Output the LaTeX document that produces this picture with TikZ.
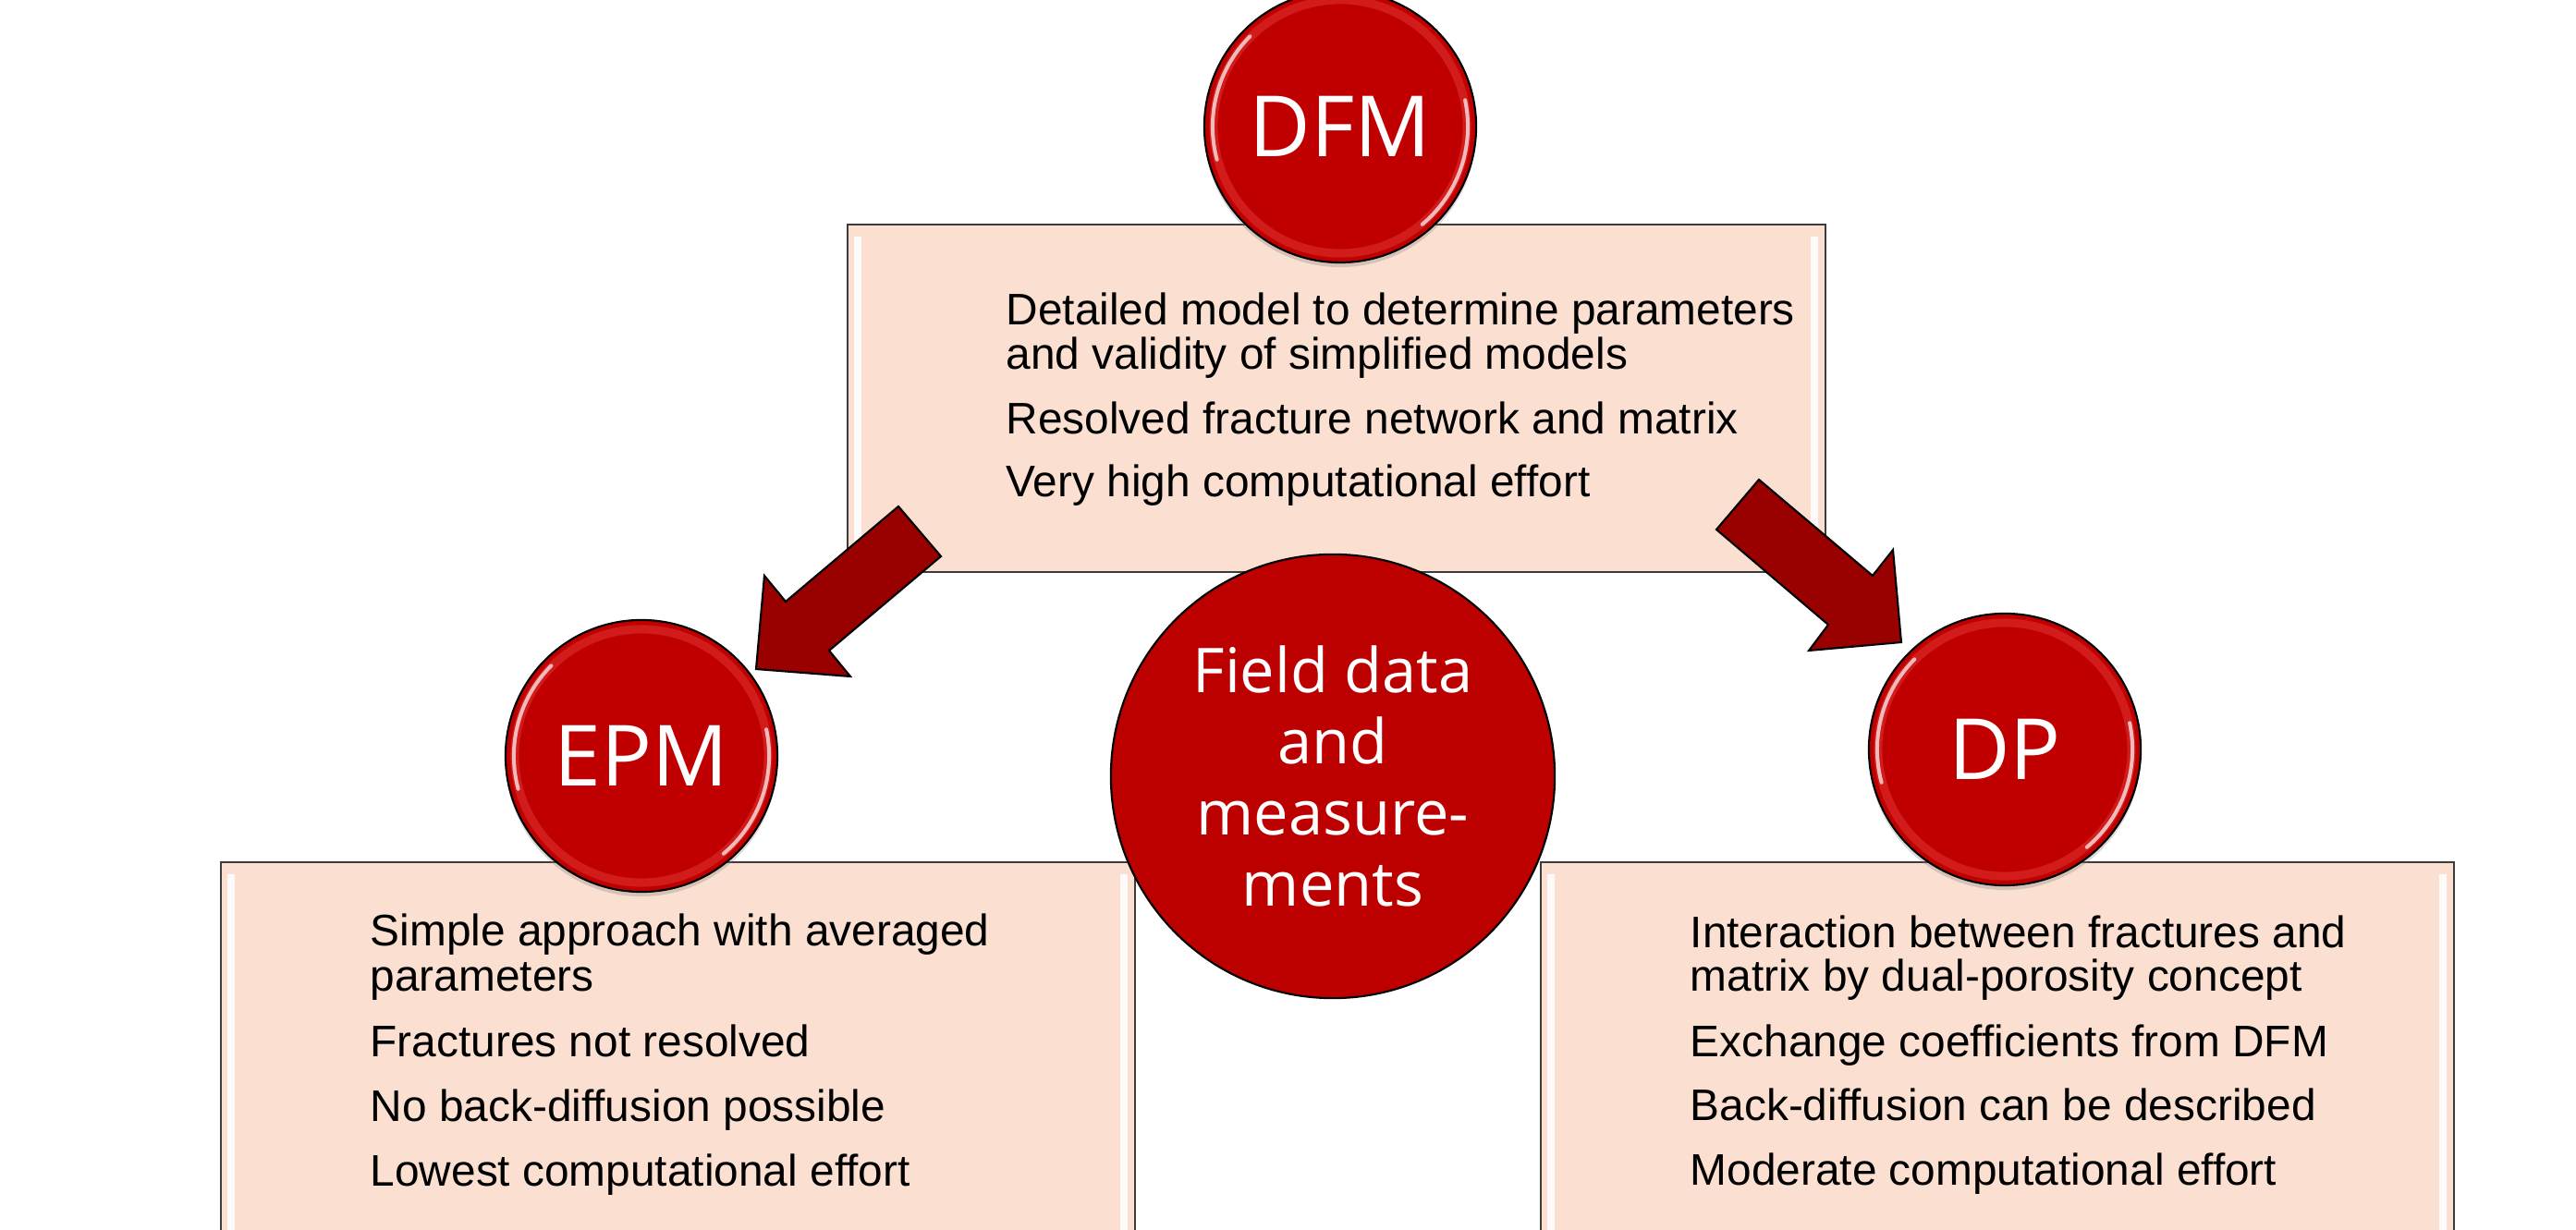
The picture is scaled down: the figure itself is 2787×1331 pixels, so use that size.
\documentclass[tikz,border=0pt]{standalone}
\usepackage{fontspec}
\setmainfont{Liberation Sans}
\newfontfamily\badgefont{Open Sans}
\usetikzlibrary{shadows}
\definecolor{badgered}{RGB}{192,0,0}
\definecolor{fieldred}{RGB}{188,0,0}
\definecolor{arrowred}{RGB}{153,0,0}
\definecolor{peach}{RGB}{251,223,208}
\definecolor{rimgray}{RGB}{60,60,60}
\definecolor{rimred}{RGB}{218,40,40}
\begin{document}
\begin{tikzpicture}[x=0.01cm, y=-0.01cm,
    panel/.style={fill=peach, draw=rimgray, line width=0.6pt},
    shine/.style={white, line width=0.08cm, opacity=0.9},
    badge/.style={circle, fill=badgered, draw=black, line width=0.6pt,
      minimum size=2.94cm, inner sep=0pt, text=white,
      font=\badgefont\fontsize{26}{30}\selectfont,
      drop shadow={shadow xshift=0pt, shadow yshift=-0.05cm, opacity=0.3}},
    itemtext/.style={anchor=base west, inner sep=0pt,
      font=\fontsize{13.6}{16}\selectfont},
    blockarrow/.style={fill=arrowred, draw=black, line width=0.6pt, line join=miter}]
  \useasboundingbox (0,0) rectangle (2787,1331);
  \clip (0,0) rectangle (2787,1331);

  % panels
  \draw[panel] (917,243) rectangle (1975,619);
  \draw[panel] (239,933) rectangle (1228,1420);
  \draw[panel] (1667,933) rectangle (2655,1420);
  \draw[shine] (928,256) -- (928,606);
  \draw[shine] (1963,256) -- (1963,606);
  \draw[shine] (250,946) -- (250,1331);
  \draw[shine] (1216,946) -- (1216,1331);
  \draw[shine] (1678,946) -- (1678,1331);
  \draw[shine] (2643,946) -- (2643,1331);

  % panel texts
  \node[itemtext] (dfmA) at (1088,352) {Detailed model to determine parameters};
  \node[itemtext] (dfmB) at (1088,400) {and validity of simplified models};
  \node[itemtext] (dfmC) at (1088,470) {Resolved fracture network and matrix};
  \node[itemtext] (dfmD) at (1088,538) {Very high computational effort};

  \node[itemtext] (epmA) at (400,1023) {Simple approach with averaged};
  \node[itemtext] (epmB) at (400,1073) {parameters};
  \node[itemtext] (epmC) at (400,1143) {Fractures not resolved};
  \node[itemtext] (epmD) at (400,1213) {No back-diffusion possible};
  \node[itemtext] (epmE) at (400,1283) {Lowest computational effort};

  \node[itemtext] (dpA) at (1828,1025) {Interaction between fractures and};
  \node[itemtext] (dpB) at (1828,1073) {matrix by dual-porosity concept};
  \node[itemtext] (dpC) at (1828,1143) {Exchange coefficients from DFM};
  \node[itemtext] (dpD) at (1828,1212) {Back-diffusion can be described};
  \node[itemtext] (dpE) at (1828,1282) {Moderate computational effort};

  % block arrows
  \draw[blockarrow] (972,548) -- (1018,602) -- (897,704) -- (920,732)
    -- (818,724) -- (827,623) -- (850,651) -- cycle;
  \draw[blockarrow] (1903,519) -- (2026,623) -- (2048,595) -- (2057,695)
    -- (1957,704) -- (1978,676) -- (1857,573) -- cycle;

  % badges
  \node[badge] (dfm) at (1450,137) {DFM};
  \node[badge] (epm) at (694,818) {EPM};
  \node[badge] (dp) at (2169,811) {DP};
  \foreach \b in {dfm,epm,dp} {
    \draw[rimred, line width=0.09cm, opacity=0.7] (\b.center) circle[radius=1.37cm];
    \draw[white, line width=0.04cm, opacity=0.7, line cap=round]
      ([shift={(135:1.38cm)}]\b.center) arc[start angle=135, end angle=195, radius=1.38cm];
    \draw[white, line width=0.04cm, opacity=0.7, line cap=round]
      ([shift={(-50:1.38cm)}]\b.center) arc[start angle=-50, end angle=12, radius=1.38cm];
  }

  % field data
  \node[circle, fill=fieldred, draw=black, line width=0.6pt, minimum size=4.8cm,
    inner sep=0pt, text=white, align=center,
    font=\badgefont\fontsize{19}{21.9}\selectfont] (field) at (1442,840)
    {Field data\\and\\measure-\\ments};
\end{tikzpicture}
\end{document}
